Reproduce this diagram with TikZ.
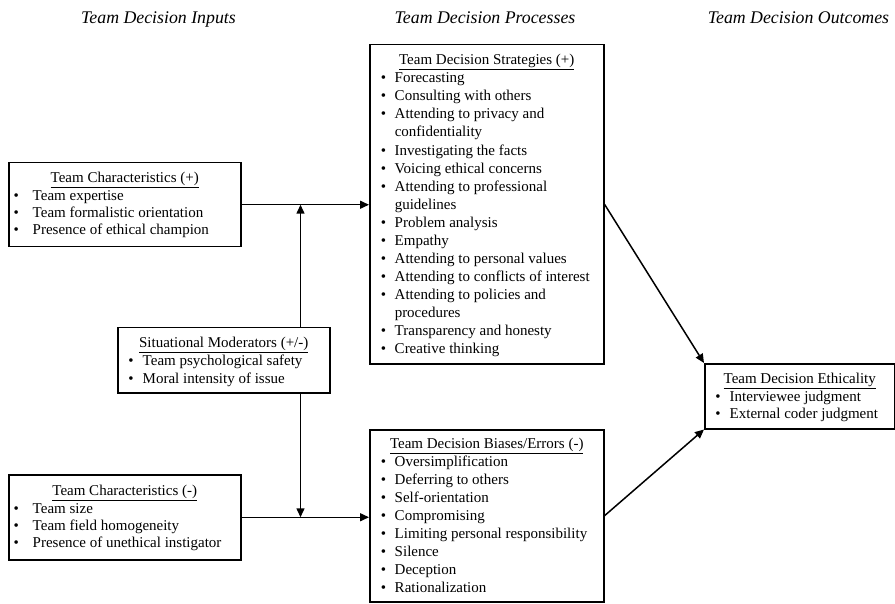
\documentclass[tikz,border=0pt]{standalone}
\usepackage{fontspec}
\setmainfont{Liberation Serif}
\usetikzlibrary{arrows.meta}

\newlength\bulL
\newlength\txtL
\newcommand{\itm}[1]{\par\noindent\hangindent=\txtL\hangafter=1\hspace*{\bulL}\makebox[\dimexpr\txtL-\bulL\relax][l]{\textbullet}#1}
\newcommand{\brk}{\hfil\break}
\newcommand{\boxttl}[1]{\par{\centering\rule{0pt}{12pt}\underline{#1}\par}}
\newcommand{\boxbody}[7]{%
  \parbox[c][#2][t]{#1}{\fontsize{15pt}{#4}\selectfont\setlength\parskip{0pt}\raggedright
  \setlength\bulL{#5}\setlength\txtL{#6}\vspace*{#3}#7}}

\tikzset{
  tbox/.style={draw, line width=1.5pt, inner sep=0pt, anchor=north west},
  hdr/.style={anchor=base, inner sep=0pt, font=\fontsize{17.8pt}{20pt}\selectfont\itshape},
  arr/.style={line width=1.5pt, -{Triangle[length=9pt,width=8pt]}}
}

\begin{document}
\begin{tikzpicture}[x=1pt, y=-1pt]
\useasboundingbox (0,0) rectangle (895,604);

% headers
\node[hdr] (hin) at (158.5,24) {Team Decision Inputs};
\node[hdr] (hpr) at (485,24) {Team Decision Processes};
\node[hdr] (hout) at (798.5,24) {Team Decision Outcomes};

% boxes
\node[tbox] (tcp) at (8,162) {\boxbody{232pt}{84pt}{8pt}{17.3pt}{5pt}{24pt}{%
  \boxttl{Team Characteristics (+)}%
  \itm{Team expertise}%
  \itm{Team formalistic orientation}%
  \itm{Presence of ethical champion}}};

\node[tbox] (mod) at (117,327) {\boxbody{212pt}{65pt}{8pt}{17.7pt}{10.5pt}{25pt}{%
  \boxttl{Situational Moderators (+/-)}%
  \itm{Team psychological safety}%
  \itm{Moral intensity of issue}}};

\node[tbox] (tcm) at (8,474) {\boxbody{232pt}{85pt}{9pt}{17.4pt}{5pt}{24pt}{%
  \boxttl{Team Characteristics (-)}%
  \itm{Team size}%
  \itm{Team field homogeneity}%
  \itm{Presence of unethical instigator}}};

\node[tbox] (strat) at (369,44) {\boxbody{234pt}{319pt}{8pt}{18.06pt}{11pt}{25pt}{%
  \boxttl{Team Decision Strategies (+)}%
  \itm{Forecasting}%
  \itm{Consulting with others}%
  \itm{Attending to privacy and\brk confidentiality}%
  \itm{Investigating the facts}%
  \itm{Voicing ethical concerns}%
  \itm{Attending to professional\brk guidelines}%
  \itm{Problem analysis}%
  \itm{Empathy}%
  \itm{Attending to personal values}%
  \itm{Attending to conflicts of interest}%
  \itm{Attending to policies and\brk procedures}%
  \itm{Transparency and honesty}%
  \itm{Creative thinking}}};

\node[tbox] (bias) at (369,429) {\boxbody{234pt}{172pt}{7pt}{18pt}{11pt}{25pt}{%
  \boxttl{Team Decision Biases/Errors (-)}%
  \itm{Oversimplification}%
  \itm{Deferring to others}%
  \itm{Self-orientation}%
  \itm{Compromising}%
  \itm{Limiting personal responsibility}%
  \itm{Silence}%
  \itm{Deception}%
  \itm{Rationalization}}};

\node[tbox] (eth) at (704,363) {\boxbody{190pt}{65pt}{8pt}{17.5pt}{10.5pt}{25pt}{%
  \boxttl{Team Decision Ethicality}%
  \itm{Interviewee judgment}%
  \itm{External coder judgment}}};

% connectors
\coordinate (vt) at (300.5,0);
\draw[arr] (tcp.east) -- (tcp.east -| strat.west);
\draw[arr] (tcm.east) -- (tcm.east -| bias.west);
\draw[arr] (mod.north -| vt) -- (vt |- tcp.east);
\draw[arr] (mod.south -| vt) -- (vt |- tcm.east);
\draw[arr] (strat.east) -- (eth.north west);
\draw[arr] (bias.east) -- (eth.south west);
\end{tikzpicture}
\end{document}
